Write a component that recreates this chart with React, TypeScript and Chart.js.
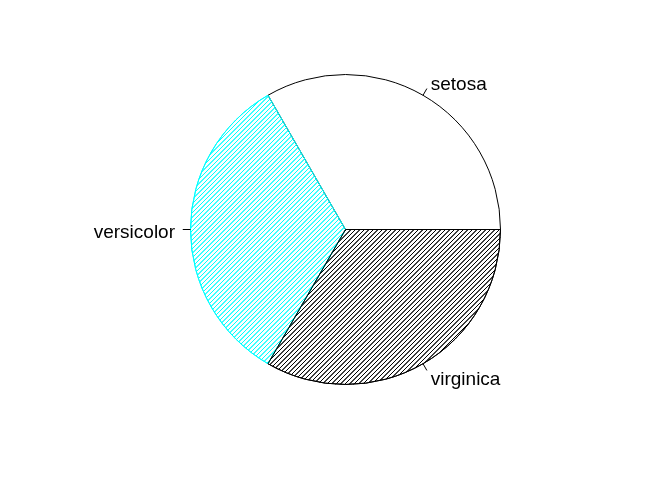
import React, { useEffect, useRef } from "react";
import { Chart, registerables } from "chart.js";

Chart.register(...registerables);

// Drawn clockwise from 3 o'clock (R draws counter-clockwise, so order is reversed)
const species: string[] = ["virginica", "versicolor", "setosa"];
const counts: number[] = [50, 50, 50];
const hatchColors: (string | null)[] = ["#000000", "#00FFFF", null];
const borderColors: string[] = ["#000000", "#00FFFF", "#000000"];

function makeHatch(color: string): CanvasPattern | string {
  const S = 9;
  const c = document.createElement("canvas");
  c.width = S;
  c.height = S;
  const g = c.getContext("2d");
  if (!g) return color;
  g.strokeStyle = color;
  g.lineWidth = 1;
  g.beginPath();
  for (let k = -2; k <= 6; k++) {
    const off = k * (S / 2);
    g.moveTo(off + 2, -2);
    g.lineTo(off - S - 2, S + 2);
  }
  g.stroke();
  const p = g.createPattern(c, "repeat");
  return p || color;
}

const labelPlugin = {
  id: "rPieLabels",
  afterDatasetsDraw(chart: any) {
    const meta = chart.getDatasetMeta(0);
    const ctx = chart.ctx as CanvasRenderingContext2D;
    // redraw in R's drawing order: setosa, versicolor, virginica on top
    ctx.save();
    meta.data[1].draw(ctx);
    meta.data[0].draw(ctx);
    ctx.restore();

    ctx.save();
    ctx.font = '19px "Liberation Sans", Arial, Helvetica, sans-serif';
    ctx.fillStyle = "#000";
    ctx.strokeStyle = "#000";
    ctx.lineWidth = 1;
    ctx.textBaseline = "middle";
    meta.data.forEach((arc: any, i: number) => {
      const mid = (arc.startAngle + arc.endAngle) / 2;
      const cx = Math.cos(mid);
      const cy = Math.sin(mid);
      const r = arc.outerRadius;
      ctx.beginPath();
      ctx.moveTo(arc.x + cx * r, arc.y + cy * r);
      ctx.lineTo(arc.x + cx * r * 1.05, arc.y + cy * r * 1.05);
      ctx.stroke();
      ctx.textAlign = cx < -1e-6 ? "right" : "left";
      ctx.fillText(species[i], arc.x + cx * r * 1.1, arc.y + cy * r * 1.1 + 3);
    });
    ctx.restore();
  },
};

export default function App() {
  const ref = useRef<HTMLCanvasElement | null>(null);
  useEffect(() => {
    document.body.style.margin = "0";
    const canvas = ref.current;
    if (!canvas) return;
    const bgs = hatchColors.map((c) => (c ? makeHatch(c) : "#FFFFFF"));
    const chart = new Chart(canvas, {
      type: "pie",
      data: {
        labels: species,
        datasets: [
          {
            data: counts,
            backgroundColor: bgs as any,
            borderColor: borderColors,
            borderWidth: 1,
            hoverBorderWidth: 1,
            hoverOffset: 0,
            offset: 0,
          } as any,
        ],
      },
      options: {
        animation: false,
        responsive: false,
        events: [],
        rotation: 90,
        layout: { padding: { left: 190, right: 171, top: 74, bottom: 95 } },
        plugins: {
          legend: { display: false },
          tooltip: { enabled: false },
          title: { display: false },
        },
      },
      plugins: [labelPlugin],
    });
    return () => chart.destroy();
  }, []);
  return (
    <div style={{ position: "absolute", left: 0, top: 0, width: 672, height: 480, background: "#fff" }}>
      <canvas ref={ref} width={672} height={480} />
    </div>
  );
}
